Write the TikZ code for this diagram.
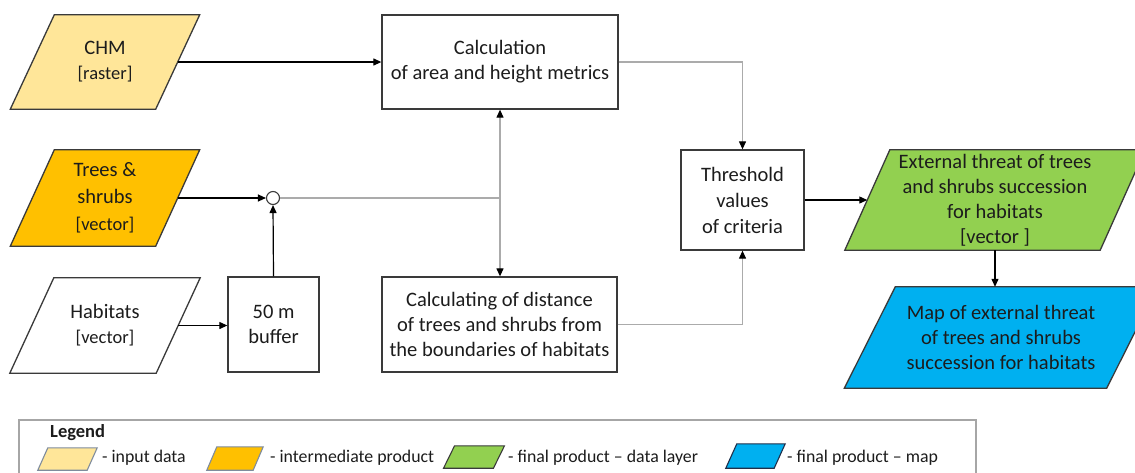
\documentclass[tikz,border=0pt]{standalone}
\usepackage{fontspec}
\setmainfont{Carlito}
\usetikzlibrary{arrows.meta,calc}
\pgfdeclarelayer{background}
\pgfsetlayers{background,main}

\definecolor{inputc}{HTML}{FFE699}
\definecolor{interc}{HTML}{FFC000}
\definecolor{layerc}{HTML}{92D050}
\definecolor{mapc}{HTML}{00B0F0}
\definecolor{edgec}{HTML}{3A3A3A}
\definecolor{linkgray}{HTML}{ABABAB}
\definecolor{legendgray}{HTML}{A6A6A6}
\definecolor{txt}{HTML}{1C1C1C}
\definecolor{softedge}{HTML}{7F8C9D}
\definecolor{blueedge}{HTML}{1F2F4A}

\newcommand\subfont{\fontsize{18.5}{22}\selectfont}

% parallelogram drawn behind a named node: node, fill, half of the slant, edge colour, line width
\newcommand\slantbox[5]{%
  \begin{pgfonlayer}{background}
    \draw[draw=#4, line width=#5, fill=#2, line join=miter]
      ([xshift=#3]#1.north west) -- ([xshift=#3]#1.north east)
      -- ([xshift=-#3]#1.south east) -- ([xshift=-#3]#1.south west) -- cycle;
  \end{pgfonlayer}}

\begin{document}
\begin{tikzpicture}[x=1pt,y=-1pt,
  every node/.style={text=txt, align=center, inner sep=0pt,
    font=\fontsize{20.5}{25}\selectfont},
  box/.style={rectangle, draw=edgec, line width=1.3pt, fill=white},
  para/.style={rectangle},
  flow/.style={draw=black, line width=1.2pt, -{Triangle[length=8pt,width=7pt]}},
  link/.style={draw=linkgray, line width=1.2pt},
  linkarrow/.style={link, -{Triangle[length=8pt,width=7pt,color=black]}},
  legtext/.style={anchor=base west, font=\fontsize{17.8}{20}\selectfont},
]
\useasboundingbox (0,0) rectangle (1135,472);
\begin{pgfonlayer}{background}
  \fill[white] (0,0) rectangle (1135,472);
\end{pgfonlayer}

% inputs
\node[para, minimum width=145pt, minimum height=94pt] (chm) at (105,62)
  {CHM\\{\subfont [raster]}};
\node[para, minimum width=145pt, minimum height=96pt,
      font=\fontsize{20.5}{27}\selectfont] (trees) at (105,198)
  {Trees \&\\shrubs\\{\subfont [vector]}};
\node[para, minimum width=146pt, minimum height=95pt] (hab) at (105,325.5)
  {Habitats\\{\subfont [vector]}};

\slantbox{chm}{inputc}{22pt}{edgec}{1.3pt}
\slantbox{trees}{interc}{22pt}{edgec}{1.3pt}
\slantbox{hab}{white}{22pt}{edgec}{1.3pt}

% processing steps
\node[box, minimum width=236pt, minimum height=94pt] (calc) at (500,62)
  {Calculation\\of area and height metrics};
\node[box, minimum width=91pt, minimum height=95pt] (buffer) at (273.5,324.5)
  {50 m\\buffer};
\node[box, minimum width=235pt, minimum height=95pt] (dist) at (499.5,324.5)
  {Calculating of distance\\of trees and shrubs from\\the boundaries of habitats};
\node[box, minimum width=123pt, minimum height=100pt,
      font=\fontsize{20.5}{26}\selectfont] (thr) at (742.5,200)
  {Threshold\\values\\of criteria};
\node[circle, draw=edgec, line width=1.1pt, fill=white, minimum size=13pt] (join) at (273,198) {};

% products
\node[para, minimum width=255pt, minimum height=100pt] (green) at (995,200)
  {External threat of trees\\and shrubs succession\\for habitats\\{[vector ]}};
\node[para, minimum width=262pt, minimum height=101pt] (blue) at (1001,337.5)
  {Map of external threat\\of trees and shrubs\\succession for habitats};

\slantbox{green}{layerc}{22.5pt}{edgec}{1.3pt}
\slantbox{blue}{mapc}{25.5pt}{edgec}{1.3pt}

% connectors
\coordinate (split) at (calc.south |- join);
\draw[flow] (chm.east) -- (calc.west);
\draw[flow] (trees.east) -- (join.west);
\draw[flow] (buffer.north) -- (join.south);
\draw[flow] (hab.east) -- (hab.east -| buffer.west);
\draw[link] (join.east) -- (split);
\draw[linkarrow] (split) -- (calc.south);
\draw[linkarrow] (split) -- (split |- dist.north);
\draw[linkarrow] (calc.east) -| (thr.north);
\draw[linkarrow] (dist.east) -| (thr.south);
\draw[flow] (thr.east) -- (green.west);
\draw[flow] (green.south) -- (green.south |- blue.north);

% legend
\draw[draw=legendgray, line width=1.5pt] (19,420) rectangle (976,495);
\node[anchor=base west, font=\fontsize{18.5}{20}\selectfont\bfseries] (legtitle) at (50,437) {Legend};

\node[para, minimum width=49pt, minimum height=22pt] (sw1) at (67.5,459) {};
\node[para, minimum width=46pt, minimum height=23pt] (sw2) at (235,458.5) {};
\node[para, minimum width=49.5pt, minimum height=22pt] (sw3) at (474,457) {};
\node[para, minimum width=48pt, minimum height=24pt] (sw4) at (755.5,456) {};
\slantbox{sw1}{inputc}{5pt}{softedge}{1.1pt}
\slantbox{sw2}{interc}{5pt}{softedge}{1.1pt}
\slantbox{sw3}{layerc}{5.5pt}{edgec}{1.1pt}
\slantbox{sw4}{mapc}{5.5pt}{blueedge}{1.1pt}

\node[legtext] (lt1) at (102,462) {- input data};
\node[legtext] (lt2) at (270,462) {- intermediate product};
\node[legtext] (lt3) at (508,462) {- final product -- data layer};
\node[legtext] (lt4) at (787,462) {- final product -- map};
\end{tikzpicture}
\end{document}
